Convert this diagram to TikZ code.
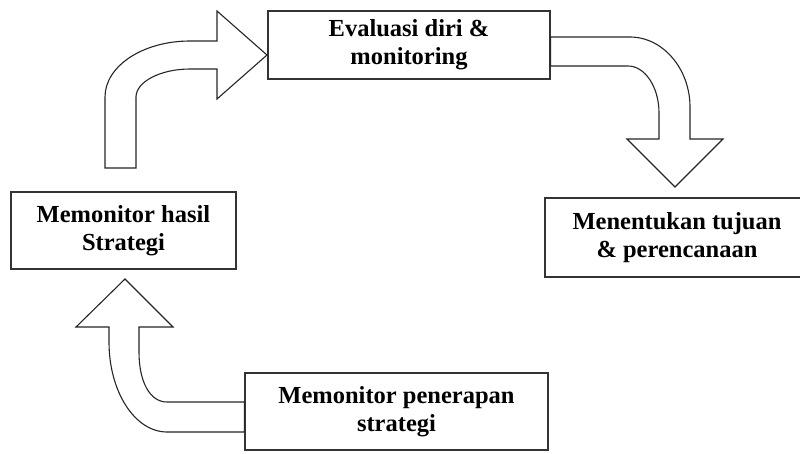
\documentclass[tikz,border=0pt]{standalone}
\usepackage{fontspec}
\setmainfont{Liberation Serif}

\begin{document}
\begin{tikzpicture}[x=1pt, y=-1pt,
  stagebox/.style={draw=black!80, line width=1.2pt, fill=white, align=center,
    font=\fontsize{24.5}{28}\selectfont\bfseries, inner sep=0pt},
  bigarrow/.style={draw=black!85, line width=1.1pt, fill=white, line join=miter}]
\useasboundingbox (0,0) rectangle (800,453);
% The four stages of the cycle
\node[stagebox, minimum width=282, minimum height=68] (eval) at (409,45) {Evaluasi diri \&\\monitoring};
\node[stagebox, minimum width=264, minimum height=79] (goal) at (677,237.5) {Menentukan tujuan\\\& perencanaan};
\node[stagebox, minimum width=303, minimum height=77] (apply) at (396.5,411.5) {Memonitor penerapan\\strategi};
\node[stagebox, minimum width=225, minimum height=77] (result) at (123.5,230.5) {Memonitor hasil\\Strategi};
% Bent block arrows between the stages
\draw[bigarrow] (105,168) -- (105,97) .. controls (105,66) and (143,41) .. (190,41)
  -- (217,41) -- (217,11) -- (267,55) -- (217,99) -- (217,69) -- (190,69)
  .. controls (160,69) and (136,82) .. (136,97) -- (136,168) -- cycle;
\draw[bigarrow] (eval.east |- 0,37) -- (630,37) .. controls (663,37) and (690,69) .. (690,107)
  -- (690,139) -- (723,139) -- (675,187) -- (627,139) -- (659,139) -- (659,113)
  .. controls (659,87) and (645,66) .. (628,66) -- (eval.east |- 0,66) -- cycle;
\draw[bigarrow] (apply.west |- 0,432) -- (167,432) .. controls (135,432) and (109,392) .. (109,342)
  -- (109,327) -- (76,327) -- (125,279) -- (173,327) -- (139,327) -- (139,352)
  .. controls (139,382) and (150,402) .. (167,402) -- (apply.west |- 0,402) -- cycle;
\end{tikzpicture}
\end{document}
